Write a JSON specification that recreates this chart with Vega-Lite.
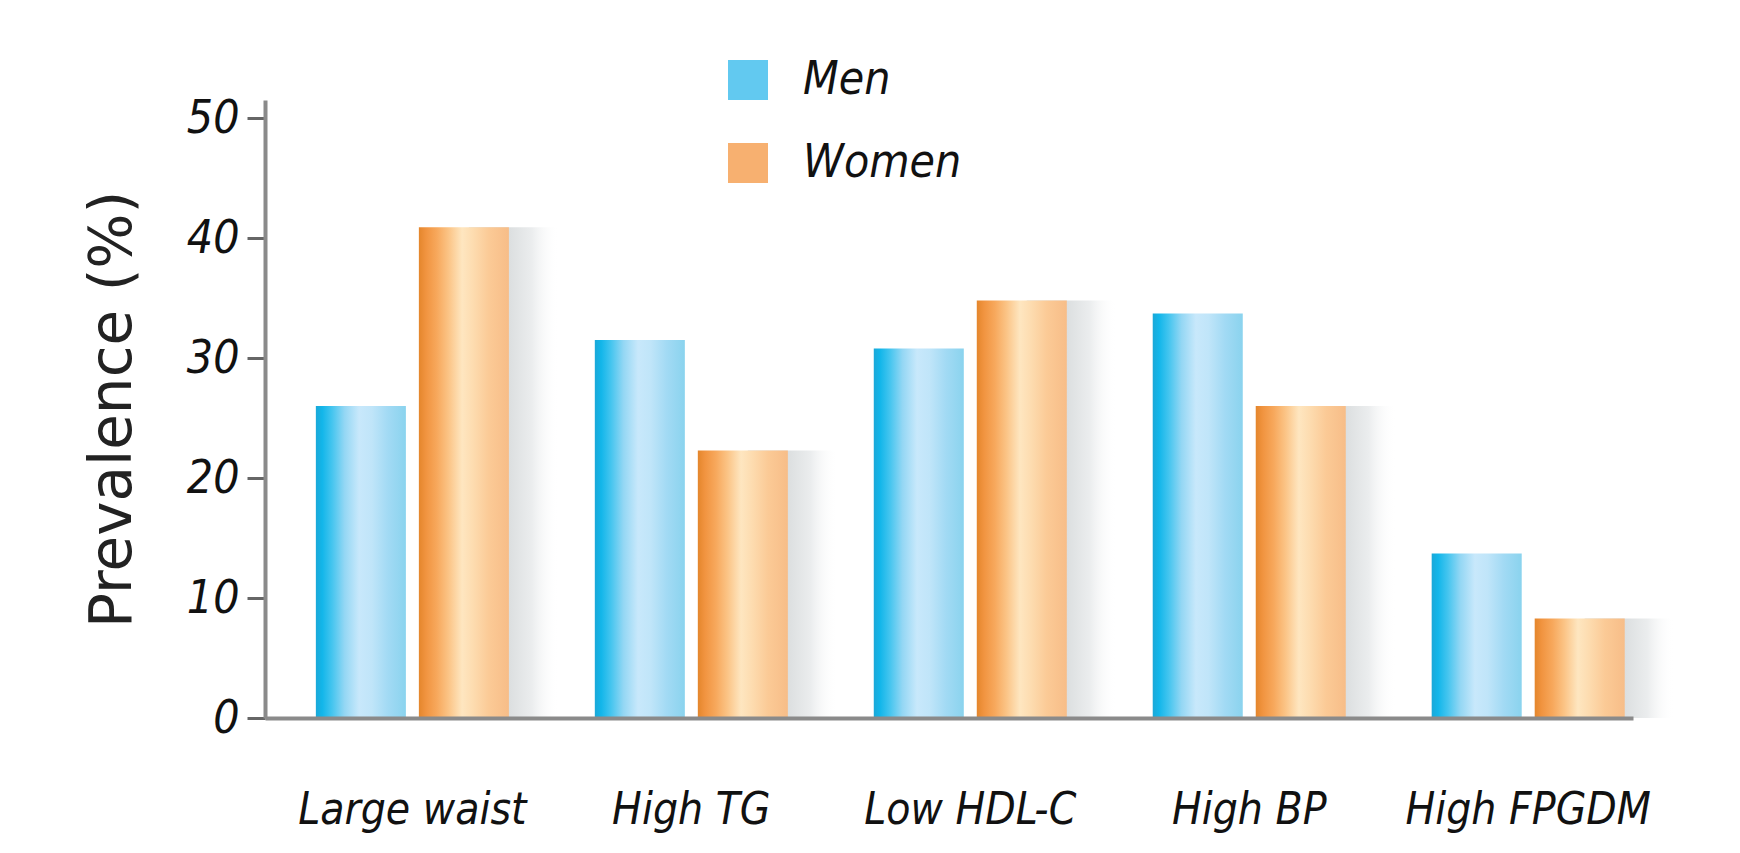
{
  "$schema": "https://vega.github.io/schema/vega-lite/v6.json",
  "width": 1368,
  "height": 618,
  "autosize": {"type": "none"},
  "padding": {"left": 265, "top": 100, "right": 107, "bottom": 135},
  "background": "white",
  "data": {
    "values": [
      {"measure": "Large waist", "sex": "Men", "prevalence": 26.0},
      {"measure": "Large waist", "sex": "Women", "prevalence": 40.9},
      {"measure": "High TG", "sex": "Men", "prevalence": 31.5},
      {"measure": "High TG", "sex": "Women", "prevalence": 22.3},
      {"measure": "Low HDL-C", "sex": "Men", "prevalence": 30.8},
      {"measure": "Low HDL-C", "sex": "Women", "prevalence": 34.8},
      {"measure": "High BP", "sex": "Men", "prevalence": 33.7},
      {"measure": "High BP", "sex": "Women", "prevalence": 26.0},
      {"measure": "High FPGDM", "sex": "Men", "prevalence": 13.7},
      {"measure": "High FPGDM", "sex": "Women", "prevalence": 8.3}
    ]
  },
  "encoding": {
    "x": {
      "field": "measure",
      "type": "nominal",
      "sort": ["Large waist", "High TG", "Low HDL-C", "High BP", "High FPGDM"],
      "scale": {"paddingInner": 0.308, "paddingOuter": 0.106, "align": 0.86},
      "title": null,
      "axis": {
        "zindex": 1,
        "labelAngle": 0,
        "labelLimit": 0,
        "ticks": false,
        "labelPadding": 70,
        "labelFont": "DejaVu Sans Condensed, DejaVu Sans, sans-serif",
        "labelFontSize": 44,
        "labelFontStyle": "italic",
        "labelColor": "#111111",
        "domainColor": "#8a8a8a",
        "domainWidth": 4
      }
    },
    "xOffset": {
      "field": "sex",
      "type": "nominal",
      "scale": {"domain": ["Men", "Women"], "paddingInner": 0.126, "paddingOuter": 0}
    },
    "y": {
      "field": "prevalence",
      "type": "quantitative",
      "scale": {"domain": [0, 51.5], "nice": false, "zero": true},
      "title": "Prevalence (%)",
      "axis": {
        "zindex": 1,
        "values": [0, 10, 20, 30, 40, 50],
        "grid": false,
        "tickSize": 18,
        "tickWidth": 3,
        "tickColor": "#666666",
        "labelPadding": 8,
        "labelFont": "DejaVu Sans Condensed, DejaVu Sans, sans-serif",
        "labelFontSize": 46,
        "labelFontStyle": "italic",
        "labelColor": "#111111",
        "domainColor": "#8a8a8a",
        "domainWidth": 4,
        "titleFont": "DejaVu Sans",
        "titleFontSize": 58,
        "titleFontWeight": "normal",
        "titleColor": "#222222",
        "titlePadding": 44
      }
    }
  },
  "layer": [
    {
      "transform": [{"filter": "datum.sex === 'Women'"}],
      "mark": {
        "type": "bar",
        "fill": {
          "gradient": "linear", "x1": 0, "x2": 1, "y1": 0, "y2": 0,
          "stops": [
            {"offset": 0, "color": "#d6d9db"},
            {"offset": 0.45, "color": "#dcdfe0"},
            {"offset": 0.7, "color": "#ebedee"},
            {"offset": 1, "color": "rgba(255,255,255,0)"}
          ]
        }
      },
      "encoding": {
        "xOffset": {
          "field": "sex",
          "type": "nominal",
          "scale": {"domain": ["Men", "Women"], "range": [50, 243], "paddingInner": 0.126, "paddingOuter": 0}
        }
      }
    },
    {
      "mark": {"type": "bar", "opacity": 0},
      "encoding": {
        "color": {
          "field": "sex",
          "type": "nominal",
          "scale": {"domain": ["Men", "Women"], "range": ["#62c9f0", "#f7b070"]},
          "legend": {
            "title": null,
            "orient": "none",
            "legendX": 460,
            "legendY": -43,
            "symbolType": "square",
            "symbolSize": 1600,
            "symbolStrokeWidth": 0,
            "symbolOpacity": 1,
            "labelFont": "DejaVu Sans Condensed, DejaVu Sans, sans-serif",
            "labelFontSize": 46,
            "labelFontStyle": "italic",
            "labelColor": "#111111",
            "labelLimit": 0,
            "labelOffset": 32,
            "rowPadding": 37,
            "padding": 0
          }
        }
      }
    },
    {
      "transform": [{"filter": "datum.sex === 'Men'"}],
      "mark": {
        "type": "bar",
        "fill": {
          "gradient": "linear", "x1": 0, "x2": 1, "y1": 0, "y2": 0,
          "stops": [
            {"offset": 0, "color": "#1aa8d8"},
            {"offset": 0.07, "color": "#12b6ea"},
            {"offset": 0.18, "color": "#45c5ef"},
            {"offset": 0.32, "color": "#94d7f4"},
            {"offset": 0.48, "color": "#c8e8fb"},
            {"offset": 0.62, "color": "#c0e5f9"},
            {"offset": 0.8, "color": "#a2daf4"},
            {"offset": 1, "color": "#8ad3ee"}
          ]
        }
      }
    },
    {
      "transform": [{"filter": "datum.sex === 'Women'"}],
      "mark": {
        "type": "bar",
        "fill": {
          "gradient": "linear", "x1": 0, "x2": 1, "y1": 0, "y2": 0,
          "stops": [
            {"offset": 0, "color": "#e4862c"},
            {"offset": 0.08, "color": "#f19440"},
            {"offset": 0.2, "color": "#f7a85c"},
            {"offset": 0.33, "color": "#fbc486"},
            {"offset": 0.48, "color": "#fee6c0"},
            {"offset": 0.6, "color": "#fddcb0"},
            {"offset": 0.78, "color": "#fbca96"},
            {"offset": 1, "color": "#f7bd88"}
          ]
        }
      }
    }
  ],
  "resolve": {"scale": {"xOffset": "independent"}},
  "config": {
    "view": {"stroke": null},
    "axis": {"grid": false}
  }
}
